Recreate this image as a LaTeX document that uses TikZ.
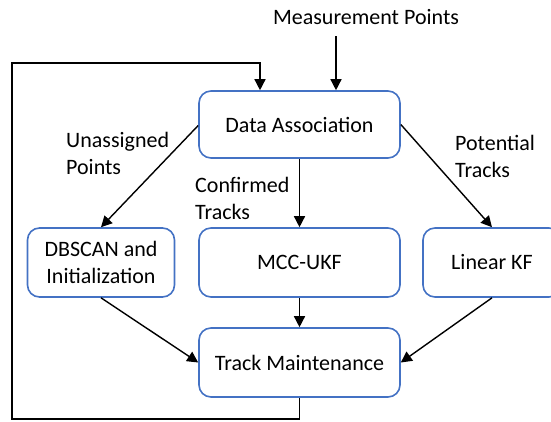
\documentclass[tikz,border=0pt]{standalone}
\usepackage{fontspec}
\setmainfont{Carlito}
\usetikzlibrary{arrows.meta}
\definecolor{boxblue}{HTML}{4472C4}
\begin{document}
\begin{tikzpicture}[x=1pt,y=-1pt,
  box/.style={draw=boxblue, line width=1.6pt, rounded corners=12pt, fill=white, inner sep=0pt, align=center, font=\fontsize{22}{27}\selectfont},
  lbl/.style={inner sep=0pt, align=left, anchor=west, font=\fontsize{22}{27}\selectfont},
  conn/.style={line width=1.4pt, -{Triangle[length=11pt,width=11pt]}}]
\useasboundingbox (0,0) rectangle (551,421);
\node[box, minimum width=201pt, minimum height=67pt] (da) at (299.5,124.5) {Data Association};
\node[box, minimum width=147pt, minimum height=69pt] (db) at (101,262.5) {DBSCAN and\\Initialization};
\node[box, minimum width=201pt, minimum height=69pt] (mcc) at (299.5,262.5) {MCC-UKF};
\node[box, minimum width=138pt, minimum height=69pt] (kf) at (492,262.5) {Linear KF};
\node[box, minimum width=201pt, minimum height=69pt] (tm) at (299.5,362.5) {Track Maintenance};
\node[inner sep=0pt, font=\fontsize{22}{27}\selectfont] (mp) at (366,17) {Measurement Points};
\node[lbl] (ua) at (66,153) {Unassigned\\Points};
\node[lbl] (ct) at (195,198) {Confirmed\\Tracks};
\node[lbl] (pt) at (455,156) {Potential\\Tracks};
\coordinate (mtop) at (336,36);
\draw[conn] (mtop) -- (mtop |- da.north);
\draw[conn] (da.west) ++(0,1) -- (db.north);
\draw[conn] (da.south) -- (mcc.north);
\draw[conn] (da.east) -- (kf.north);
\draw[conn] (db.south) -- (tm.west);
\draw[conn] (mcc.south) -- (tm.north);
\draw[conn] (kf.south) -- (tm.east);
\coordinate (l1) at (12,419);
\coordinate (l2) at (260,63);
\draw[conn] (tm.south) |- (l1) |- (l2) -- (l2 |- da.north);
\end{tikzpicture}
\end{document}
